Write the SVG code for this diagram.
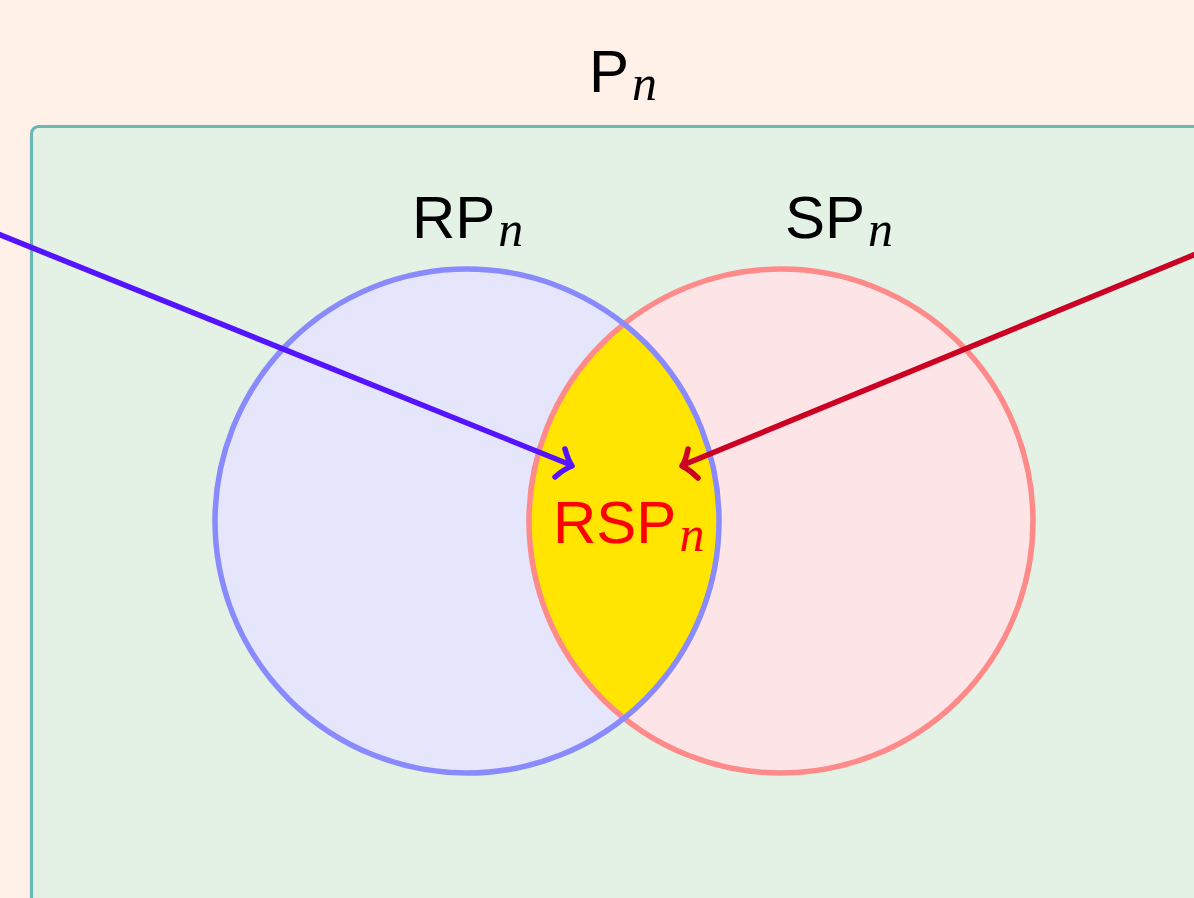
<svg xmlns="http://www.w3.org/2000/svg" width="1194" height="898" viewBox="0 0 1194 898">
<style>
.lbl{font-family:"Liberation Sans","DejaVu Sans",sans-serif;font-size:60px;fill:#000}
.sub{font-family:"Liberation Serif","DejaVu Serif",serif;font-style:italic;font-size:50px}
.arr{fill:none;stroke-width:5.5;stroke-linecap:round;stroke-linejoin:round}
.ring{fill:none;stroke-width:5.5}
</style>
<rect width="1194" height="898" fill="#fff1e8"/>
<g id="universe">
<rect x="31.5" y="126.5" width="1200" height="800" rx="7" fill="#e4f2e6" stroke="#6bb7b5" stroke-width="3.2"/>
<text class="lbl" x="589" y="92">P<tspan class="sub" dx="3" dy="8">n</tspan></text>
</g>
<g id="RP">
<circle cx="467" cy="521" r="252" fill="#e5e5fc"/>
</g>
<g id="SP">
<circle cx="781" cy="521" r="252" fill="#fde4e6"/>
</g>
<g id="RSP">
<path d="M624,324 A252,252 0 0,1 624,718 A252,252 0 0,1 624,324 Z" fill="#ffe500"/>
</g>
<circle class="ring" cx="781" cy="521" r="252" stroke="#ff8a8a"/>
<circle class="ring" cx="467" cy="521" r="252" stroke="#8a8aff"/>
<text class="lbl" x="412" y="238">RP<tspan class="sub" dx="3" dy="8">n</tspan></text>
<text class="lbl" x="785" y="238">SP<tspan class="sub" dx="3" dy="8">n</tspan></text>
<text class="lbl" x="553" y="543" style="fill:#ff0000">RSP<tspan class="sub" dx="3" dy="8">n</tspan></text>
<g id="connectors">
<path class="arr" stroke="#5414ff" d="M-2,234 L571,465"/>
<path class="arr" stroke="#5414ff" d="M565,449 Q568,460 572,466 Q564,469 555,477"/>
<path class="arr" stroke="#cc0022" d="M1196,254 L683,465"/>
<path class="arr" stroke="#cc0022" d="M688,449 Q686,460 682,466 Q690,470 698,478"/>
</g>
</svg>
